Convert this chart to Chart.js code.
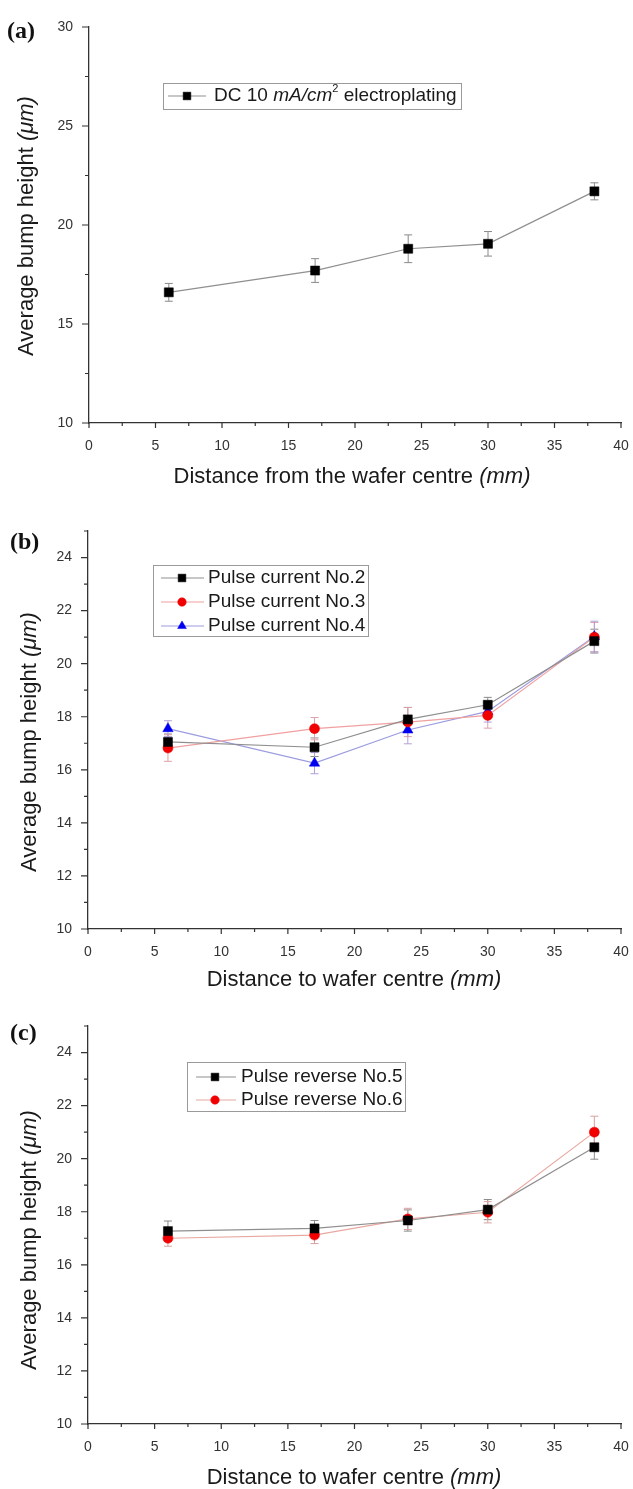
<!DOCTYPE html>
<html>
<head>
<meta charset="utf-8">
<script src="https://cdn.jsdelivr.net/npm/chart.js@4.4.0/dist/chart.umd.min.js"></script>
<style>
  body { margin: 0; background: #fff; width: 633px; height: 1489px; overflow: hidden; position: relative; }
  canvas { position: absolute; left: 0; }
</style>
</head>
<body>
<canvas id="chartA" width="633" height="495" style="top:0"></canvas>
<canvas id="chartB" width="633" height="495" style="top:495px"></canvas>
<canvas id="chartC" width="633" height="499" style="top:990px"></canvas>
<script>
// distances from wafer centre (mm)
const distances = [6, 17, 24, 30, 38];

// (a) DC plating
const dcHeight = [16.6, 17.7, 18.8, 19.05, 21.7];
const dcError = [0.45, 0.6, 0.7, 0.62, 0.43];

// (b) pulse current
const pc2Height = [17.05, 16.85, 17.9, 18.45, 20.85];
const pc2Error = [0.3, 0.35, 0.45, 0.28, 0.45];
const pc3Height = [16.82, 17.55, 17.8, 18.05, 21.0];
const pc3Error = [0.5, 0.42, 0.55, 0.48, 0.55];
const pc4Height = [17.55, 16.25, 17.5, 18.2, 21.02];
const pc4Error = [0.3, 0.4, 0.52, 0.4, 0.58];

// (c) pulse reverse
const pr5Height = [17.27, 17.37, 17.67, 18.08, 20.43];
const pr5Error = [0.38, 0.3, 0.4, 0.38, 0.45];
const pr6Height = [17.0, 17.12, 17.73, 17.98, 21.0];
const pr6Error = [0.3, 0.32, 0.4, 0.4, 0.6];

// tick labels
const xTicks = [0, 5, 10, 15, 20, 25, 30, 35, 40];
const yTicksA = [10, 15, 20, 25, 30];
const yTicksBC = [10, 12, 14, 16, 18, 20, 22, 24];

const SANS = '"Liberation Sans", Arial, sans-serif';

function partFont(p, size) {
  const s = p.sup ? Math.round(size * 0.6) : size;
  return (p.italic ? 'italic ' : '') + s + 'px ' + SANS;
}

function drawRich(ctx, parts, x, y, size, align) {
  let w = 0;
  parts.forEach(p => { ctx.font = partFont(p, size); w += ctx.measureText(p.t).width; });
  let cx = align === 'center' ? x - w / 2 : x;
  ctx.textAlign = 'left';
  ctx.textBaseline = 'middle';
  parts.forEach(p => {
    ctx.font = partFont(p, size);
    ctx.fillText(p.t, cx, p.sup ? y - size * 0.38 : y);
    cx += ctx.measureText(p.t).width;
  });
}

const errorBars = {
  id: 'errorBars',
  beforeDatasetsDraw(chart) {
    const ctx = chart.ctx;
    const xs = chart.scales.x, ys = chart.scales.y;
    chart.data.datasets.forEach(ds => {
      ctx.save();
      ctx.strokeStyle = ds.errorColor;
      ctx.lineWidth = 1;
      ds.data.forEach((pt, i) => {
        const px = xs.getPixelForValue(pt.x);
        const top = ys.getPixelForValue(pt.y + ds.errors[i]);
        const bot = ys.getPixelForValue(pt.y - ds.errors[i]);
        ctx.beginPath();
        ctx.moveTo(px, top); ctx.lineTo(px, bot);
        ctx.moveTo(px - 4, top); ctx.lineTo(px + 4, top);
        ctx.moveTo(px - 4, bot); ctx.lineTo(px + 4, bot);
        ctx.stroke();
      });
      ctx.restore();
    });
  }
};

function decorPlugin(cfg) {
  return {
    id: 'decor',
    afterDraw(chart) {
      const ctx = chart.ctx;
      const xs = chart.scales.x, ys = chart.scales.y;
      const area = chart.chartArea;
      ctx.save();
      // minor + major tick marks
      ctx.strokeStyle = '#333';
      ctx.lineWidth = 1.2;
      ctx.beginPath();
      for (let v = xs.min; v <= xs.max + 1e-9; v += 2.5) {
        const px = xs.getPixelForValue(v);
        const len = Math.abs(v % 5) < 1e-6 ? 5 : 3;
        ctx.moveTo(px, area.bottom); ctx.lineTo(px, area.bottom + len);
      }
      for (let v = ys.min; v <= ys.max + 1e-9; v += cfg.yMinor) {
        const py = ys.getPixelForValue(v);
        const len = Math.abs((v - ys.min) % cfg.yMajor) < 1e-6 ? 7 : 4;
        ctx.moveTo(area.left, py); ctx.lineTo(area.left - len, py);
      }
      ctx.stroke();

      // panel label
      ctx.fillStyle = '#111';
      ctx.font = 'bold 24px "Liberation Serif", "Times New Roman", serif';
      ctx.textAlign = 'left';
      ctx.textBaseline = 'middle';
      ctx.fillText(cfg.label, cfg.labelPos[0], cfg.labelPos[1]);

      // axis titles
      ctx.fillStyle = '#1a1a1a';
      drawRich(ctx, cfg.xTitle, cfg.xTitlePos[0], cfg.xTitlePos[1], 22, 'center');
      ctx.save();
      ctx.translate(cfg.yTitlePos[0], cfg.yTitlePos[1]);
      ctx.rotate(-Math.PI / 2);
      drawRich(ctx, cfg.yTitle, 0, 0, 22, 'center');
      ctx.restore();

      // legend box
      const lg = cfg.legend;
      ctx.strokeStyle = '#9a9a9a';
      ctx.lineWidth = 1;
      ctx.strokeRect(lg.box[0] + 0.5, lg.box[1] + 0.5, lg.box[2], lg.box[3]);
      chart.data.datasets.forEach((ds, i) => {
        const y = lg.rows[i];
        ctx.strokeStyle = ds.borderColor;
        ctx.lineWidth = 1.2;
        ctx.beginPath();
        ctx.moveTo(lg.line[0], y); ctx.lineTo(lg.line[1], y);
        ctx.stroke();
        ctx.fillStyle = ds.pointBackgroundColor;
        ctx.strokeStyle = ds.pointBorderColor;
        ctx.lineWidth = 0.5;
        Chart.helpers.drawPoint(ctx, { pointStyle: ds.pointStyle, radius: ds.pointRadius * 0.85, rotation: 0, borderWidth: 0.5 }, lg.marker, y);
        ctx.fillStyle = '#1a1a1a';
        drawRich(ctx, lg.texts[i], lg.text, y, 19, 'left');
      });
      ctx.restore();
    }
  };
}

function makeChart(id, series, cfg) {
  return new Chart(document.getElementById(id), {
    type: 'line',
    data: {
      datasets: series.map(s => ({
        label: s.label,
        data: distances.map((d, i) => ({ x: d, y: s.values[i] })),
        errors: s.errors,
        errorColor: s.errorColor,
        borderColor: s.line,
        borderWidth: 1.2,
        tension: 0,
        fill: false,
        pointStyle: s.marker,
        pointRadius: s.radius,
        pointBackgroundColor: s.color,
        pointBorderColor: s.color,
        pointBorderWidth: 0.5
      }))
    },
    options: {
      responsive: false,
      animation: false,
      events: [],
      layout: { padding: { left: 0, right: 633 - cfg.right, top: cfg.top, bottom: cfg.padBottom } },
      plugins: { legend: { display: false }, tooltip: { enabled: false } },
      scales: {
        x: {
          type: 'linear', min: 0, max: 40,
          afterBuildTicks: scale => { scale.ticks = xTicks.map(v => ({ value: v })); },
          afterFit: scale => { scale.height = 40; },
          grid: { display: true, drawOnChartArea: false, drawTicks: true, tickLength: 15, tickColor: 'rgba(0,0,0,0)' },
          border: { display: true, color: '#333', width: 1.3 },
          ticks: { color: '#333', padding: 0, font: { family: SANS, size: 14 } }
        },
        y: {
          type: 'linear', min: cfg.yMin, max: cfg.yMax,
          afterBuildTicks: scale => { scale.ticks = cfg.yTicks.map(v => ({ value: v })); },
          afterFit: scale => { scale.width = cfg.left; },
          grid: { display: true, drawOnChartArea: false, drawTicks: true, tickLength: 16, tickColor: 'rgba(0,0,0,0)' },
          border: { display: true, color: '#333', width: 1.3 },
          ticks: { color: '#333', padding: 0, font: { family: SANS, size: 14 } }
        }
      }
    },
    plugins: [errorBars, decorPlugin(cfg)]
  });
}

const yTitle = [{ t: 'Average bump height ' }, { t: '(\u03bcm)', italic: true }];

makeChart('chartA', [
  { label: 'DC 10 mA/cm2 electroplating', values: dcHeight, errors: dcError, marker: 'rect', radius: 6.4,
    color: '#000', line: '#8f8f8f', errorColor: '#8a8a8a' }
], {
  left: 89, right: 621, top: 27, padBottom: 495 - 423 - 40,
  yMin: 10, yMax: 30, yTicks: yTicksA, yMinor: 2.5, yMajor: 5,
  label: '(a)', labelPos: [7, 32],
  xTitle: [{ t: 'Distance from the wafer centre ' }, { t: '(mm)', italic: true }], xTitlePos: [352, 477],
  yTitle: yTitle, yTitlePos: [27, 226],
  legend: {
    box: [163, 83, 298, 26], rows: [96], line: [168, 206], marker: 187, text: 214,
    texts: [[{ t: 'DC 10 ' }, { t: 'mA/cm', italic: true }, { t: '2', sup: true }, { t: ' electroplating' }]]
  }
});

makeChart('chartB', [
  { label: 'Pulse current No.2', values: pc2Height, errors: pc2Error, marker: 'rect', radius: 6.4,
    color: '#000', line: '#8f8f8f', errorColor: '#8a8a8a' },
  { label: 'Pulse current No.3', values: pc3Height, errors: pc3Error, marker: 'circle', radius: 5,
    color: '#f00000', line: '#f0a0a0', errorColor: '#e0a0a8' },
  { label: 'Pulse current No.4', values: pc4Height, errors: pc4Error, marker: 'triangle', radius: 6,
    color: '#0000f0', line: '#9c9ce0', errorColor: '#b0a0d8' }
], {
  left: 88, right: 621, top: 36, padBottom: 495 - 434 - 40,
  yMin: 10, yMax: 25, yTicks: yTicksBC, yMinor: 1, yMajor: 2,
  label: '(b)', labelPos: [10, 48],
  xTitle: [{ t: 'Distance to wafer centre ' }, { t: '(mm)', italic: true }], xTitlePos: [354, 485],
  yTitle: yTitle, yTitlePos: [30, 247],
  legend: {
    box: [153, 70, 215, 71], rows: [83, 107, 131], line: [161, 204], marker: 182, text: 208,
    texts: [[{ t: 'Pulse current No.2' }], [{ t: 'Pulse current No.3' }], [{ t: 'Pulse current No.4' }]]
  }
});

makeChart('chartC', [
  { label: 'Pulse reverse No.5', values: pr5Height, errors: pr5Error, marker: 'rect', radius: 6.4,
    color: '#000', line: '#8f8f8f', errorColor: '#8a8a8a' },
  { label: 'Pulse reverse No.6', values: pr6Height, errors: pr6Error, marker: 'circle', radius: 5,
    color: '#f00000', line: '#e8a8a0', errorColor: '#d8a0a0' }
], {
  left: 88, right: 621, top: 36, padBottom: 499 - 434 - 40,
  yMin: 10, yMax: 25, yTicks: yTicksBC, yMinor: 1, yMajor: 2,
  label: '(c)', labelPos: [10, 44],
  xTitle: [{ t: 'Distance to wafer centre ' }, { t: '(mm)', italic: true }], xTitlePos: [354, 488],
  yTitle: yTitle, yTitlePos: [30, 250],
  legend: {
    box: [187, 72, 218, 49], rows: [87, 110], line: [196, 236], marker: 215, text: 241,
    texts: [[{ t: 'Pulse reverse No.5' }], [{ t: 'Pulse reverse No.6' }]]
  }
});
</script>
</body>
</html>
